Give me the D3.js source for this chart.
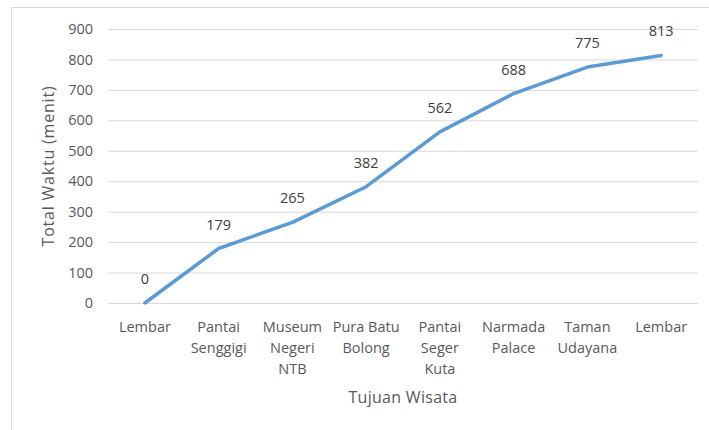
<!DOCTYPE html>
<html>
<head>
<meta charset="utf-8">
<script src="https://cdn.jsdelivr.net/npm/d3@7"></script>
<style>
  body { margin: 0; background: #fff; }
  text { font-family: "Open Sans", sans-serif; fill: #595959; }
</style>
</head>
<body>
<svg id="chart" width="709" height="430"></svg>
<script>
// tujuan wisata and cumulative time (minutes)
const categories = [
    ['Lembar'],
    ['Pantai', 'Senggigi'],
    ['Museum', 'Negeri', 'NTB'],
    ['Pura Batu', 'Bolong'],
    ['Pantai', 'Seger', 'Kuta'],
    ['Narmada', 'Palace'],
    ['Taman', 'Udayana'],
    ['Lembar']
];
const totals = [0, 179, 265, 382, 562, 688, 775, 813];
const yTicks = [0, 100, 200, 300, 400, 500, 600, 700, 800, 900];

const svg = d3.select('#chart');
const plotLeft = 108, plotRight = 698, plotTop = 29, plotBottom = 303;

// outer frame, runs off the right and bottom edges
svg.append('rect')
    .attr('x', 11.5).attr('y', 7.5)
    .attr('width', 760).attr('height', 500)
    .attr('fill', 'none')
    .attr('stroke', '#d9d9d9');

const x = d3.scalePoint()
    .domain(d3.range(categories.length))
    .range([plotLeft, plotRight])
    .padding(0.5);

const y = d3.scaleLinear()
    .domain([0, 900])
    .range([plotBottom, plotTop]);

// gridlines + y labels
const yAxis = svg.append('g')
    .attr('transform', 'translate(' + plotLeft + ',0)')
    .call(d3.axisLeft(y).tickValues(yTicks).tickSize(-(plotRight - plotLeft)).tickPadding(15));
yAxis.select('.domain').remove();
yAxis.selectAll('line').attr('stroke', '#d9d9d9');
yAxis.selectAll('text')
    .style('font-size', '14.5px')
    .style('font-family', '"Open Sans", sans-serif')
    .attr('fill', '#595959');

// category labels
const xLabels = svg.append('g')
    .selectAll('text')
    .data(categories)
    .join('text')
    .attr('x', (d, i) => x(i))
    .attr('y', 332)
    .attr('text-anchor', 'middle')
    .style('font-size', '14.5px');
xLabels.selectAll('tspan')
    .data(d => d)
    .join('tspan')
    .attr('x', function() { return this.parentNode.getAttribute('x'); })
    .attr('dy', (d, i) => i === 0 ? 0 : 21)
    .text(d => d);

// the line
const line = d3.line()
    .x((d, i) => x(i))
    .y(d => y(d));

svg.append('path')
    .datum(totals)
    .attr('d', line)
    .attr('fill', 'none')
    .attr('stroke', '#5b9bd5')
    .attr('stroke-width', 3.5)
    .attr('stroke-linejoin', 'round')
    .attr('stroke-linecap', 'round');

// data labels
svg.append('g')
    .selectAll('text')
    .data(totals)
    .join('text')
    .attr('x', (d, i) => x(i))
    .attr('y', d => y(d) - 19)
    .attr('text-anchor', 'middle')
    .style('font-size', '14.5px')
    .style('fill', '#404040')
    .text(d => d);

// axis titles
svg.append('text')
    .attr('x', (plotLeft + plotRight) / 2)
    .attr('y', 403)
    .attr('text-anchor', 'middle')
    .style('font-size', '16px')
    .style('letter-spacing', '0.3px')
    .text('Tujuan Wisata');

svg.append('text')
    .attr('transform', 'translate(54,' + (plotTop + plotBottom) / 2 + ') rotate(-90)')
    .attr('text-anchor', 'middle')
    .style('font-size', '16px')
    .style('letter-spacing', '0.8px')
    .text('Total Waktu (menit)');
</script>
</body>
</html>
